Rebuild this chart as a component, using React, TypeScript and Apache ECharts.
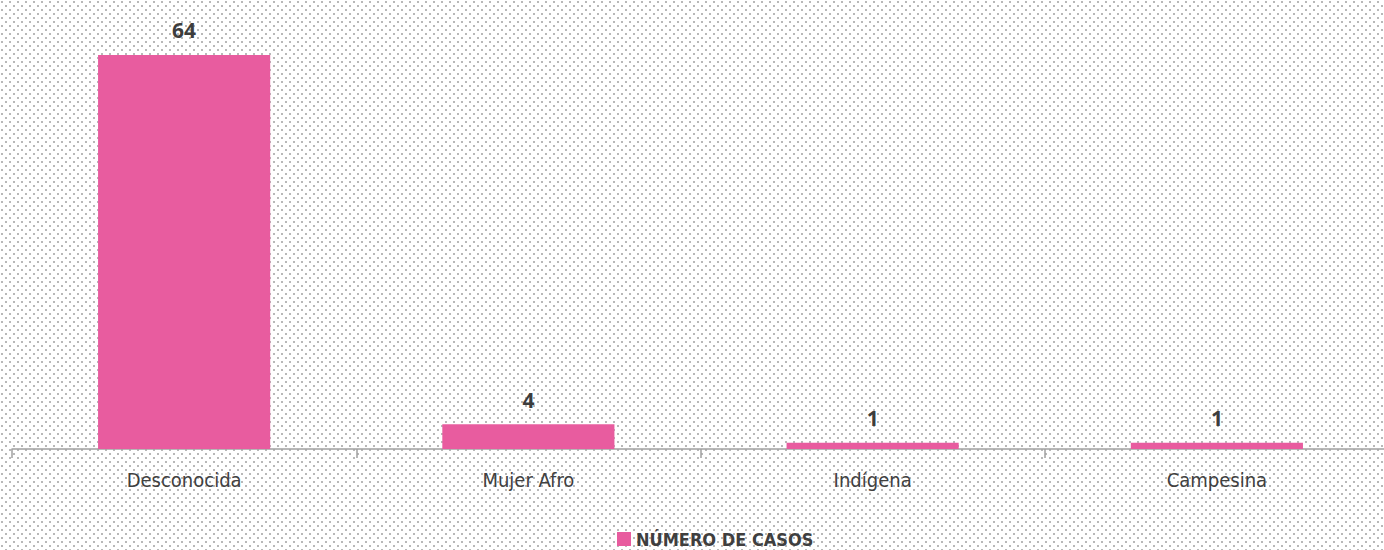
import React, { useEffect, useRef } from "react";
import * as echarts from "echarts";

const categories = ["Desconocida", "Mujer Afro", "Indígena", "Campesina"];
const casos = [64, 4, 1, 1];
const seriesName = "NÚMERO DE CASOS";

const condensed = "'DejaVu Sans Condensed', 'Liberation Sans Narrow', 'Roboto Condensed', sans-serif";

export default function App() {
  const ref = useRef<HTMLDivElement>(null);
  useEffect(() => {
    if (!ref.current) return;
    const chart = echarts.init(ref.current, undefined, { renderer: "svg" });
    chart.setOption({
      animation: false,
      backgroundColor: "transparent",
      grid: { left: 12, right: 1, top: 18, bottom: 101, containLabel: false },
      legend: {
        left: 612,
        top: 525,
        itemWidth: 14,
        itemHeight: 14,
        icon: "rect",
        itemGap: 6,
        textStyle: {
          fontFamily: condensed,
          fontWeight: "bold",
          fontSize: 18,
          lineHeight: 18,
          color: "#3f3f3f",
        },
        data: [seriesName],
      },
      xAxis: {
        type: "category",
        data: categories,
        axisLine: { lineStyle: { color: "#a0a0a0", width: 1.5 } },
        axisTick: { show: true, length: 9, lineStyle: { color: "#a0a0a0", width: 1.5 } },
        axisLabel: {
          margin: 21,
          fontFamily: condensed,
          fontSize: 20,
          color: "#404040",
        },
      },
      yAxis: {
        type: "value",
        min: 0,
        max: 70,
        show: false,
        splitLine: { show: false },
      },
      series: [
        {
          name: seriesName,
          type: "bar",
          data: casos,
          barWidth: "50%",
          itemStyle: { color: "#E85C9F" },
          label: {
            show: true,
            position: "top",
            distance: 14,
            fontFamily: "'Noto Sans', sans-serif",
            fontWeight: "bold",
            fontSize: 21,
            color: "#3d3d3d",
          },
        },
      ],
    });
    return () => chart.dispose();
  }, []);
  return (
    <div
      style={{
        position: "absolute",
        left: 0,
        top: 0,
        width: 1384,
        height: 550,
        overflow: "hidden",
        backgroundColor: "#ffffff",
        backgroundImage:
          "radial-gradient(circle, #b8b8b8 1px, transparent 1.4px), radial-gradient(circle, #b8b8b8 1px, transparent 1.4px)",
        backgroundSize: "8px 8px, 8px 8px",
        backgroundPosition: "2px 2px, 6px 6px",
      }}
    >
      <div ref={ref} style={{ position: "absolute", left: 0, top: 0, width: 1390, height: 550 }} />
    </div>
  );
}
